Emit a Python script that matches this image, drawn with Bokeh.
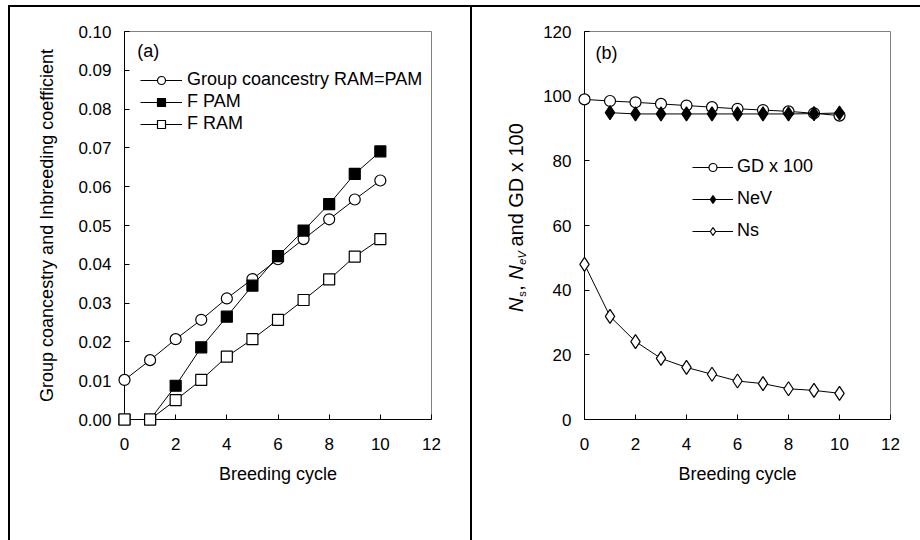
import math
from bokeh.plotting import figure
from bokeh.models import Range1d, Label, FixedTicker, PrintfTickFormatter
from bokeh.layouts import row
from bokeh.embed import file_html
from bokeh.resources import INLINE
from bokeh.core.properties import value

# ---------------- data ----------------
cycles = [0, 1, 2, 3, 4, 5, 6, 7, 8, 9, 10]
group_coancestry = [0.0102, 0.0153, 0.0207, 0.0257, 0.0312, 0.0362, 0.0413, 0.0465, 0.0516, 0.0567, 0.0616]
f_pam = [0.0, 0.0, 0.0087, 0.0186, 0.0265, 0.0345, 0.0421, 0.0487, 0.0555, 0.0633, 0.0691]
f_ram = [0.0, 0.0, 0.0050, 0.0102, 0.0162, 0.0207, 0.0257, 0.0308, 0.0361, 0.0420, 0.0465]

gd_x100 = [99.0, 98.5, 98.1, 97.6, 97.1, 96.6, 96.1, 95.7, 95.3, 94.7, 94.0]
nev_cycles = [1, 2, 3, 4, 5, 6, 7, 8, 9, 10]
nev = [94.9, 94.5, 94.5, 94.5, 94.5, 94.5, 94.5, 94.5, 94.6, 94.8]
ns = [48.0, 31.9, 24.1, 18.9, 16.1, 14.0, 11.9, 11.1, 9.5, 9.0, 8.1]

x_ticks = [0, 2, 4, 6, 8, 10, 12]
y_ticks_a = [0.0, 0.01, 0.02, 0.03, 0.04, 0.05, 0.06, 0.07, 0.08, 0.09, 0.10]
y_ticks_b = [0, 20, 40, 60, 80, 100, 120]

FONT = "Liberation Sans"
TICK_FS = "17px"
LABEL_FS = "18px"
H = 535
TOP = 24
BORDER = 2


def base_fig(width, mbl, mbr, frame_h, ymax, yticks):
    p = figure(width=width, height=H, output_backend="svg", toolbar_location=None,
               x_range=Range1d(0, 12), y_range=Range1d(0, ymax),
               min_border_left=mbl, min_border_right=mbr, min_border_top=TOP,
               min_border_bottom=H - BORDER - TOP - frame_h)
    p.grid.visible = False
    p.outline_line_color = "#808080"
    p.outline_line_width = 1
    p.background_fill_color = "white"
    p.border_fill_color = "white"
    for ax in (p.xaxis[0], p.yaxis[0]):
        ax.axis_line_color = "black"
        ax.axis_line_width = 1
        ax.major_tick_in = 5
        ax.major_tick_out = 0
        ax.minor_tick_line_color = None
        ax.major_tick_line_color = "black"
        ax.major_label_text_font = FONT
        ax.major_label_text_font_size = TICK_FS
        ax.major_label_text_color = "black"
        ax.major_label_standoff = 13
        ax.axis_label_text_font = FONT
        ax.axis_label_text_font_size = LABEL_FS
        ax.axis_label_text_font_style = "normal"
        ax.axis_label_text_color = "black"
    p.xaxis[0].ticker = FixedTicker(ticks=x_ticks)
    p.yaxis[0].ticker = FixedTicker(ticks=yticks)
    p.xaxis[0].axis_label = "Breeding cycle"
    p.xaxis[0].major_label_standoff = 18
    p.xaxis[0].axis_label_standoff = 11
    return p


def style_legend(p, x, y, spacing, gw, standoff):
    lg = p.legend[0]
    lg.location = (x, y)
    lg.padding = 0
    lg.margin = 0
    lg.spacing = spacing
    lg.border_line_color = None
    lg.background_fill_alpha = 0
    lg.glyph_width = gw
    lg.glyph_height = 20
    lg.label_height = 20
    lg.label_standoff = standoff
    lg.label_text_font = FONT
    lg.label_text_font_size = LABEL_FS
    lg.label_text_color = "black"


def series(p, xs, ys, marker, size, fill, label):
    p.line(xs, ys, line_color="black", line_width=1, legend_label=label)
    p.scatter(xs, ys, marker=marker, size=size, fill_color=fill, line_color="black",
              line_width=1.2, legend_label=label, level="overlay")


# ---------------- panel (a) ----------------
pa = base_fig(464, 114, 43, 388, 0.10, y_ticks_a)
pa.yaxis[0].formatter = PrintfTickFormatter(format="%.2f")
pa.yaxis[0].axis_label = "Group coancestry and Inbreeding coefficient"
pa.yaxis[0].axis_label_standoff = 18

series(pa, cycles, group_coancestry, "circle", 11, "white", "Group coancestry RAM=PAM")
series(pa, cycles, f_pam, "square", 11, "black", "F PAM")
series(pa, cycles, f_ram, "square", 11, "white", "F RAM")
style_legend(pa, 16, 285, 1, 42, 5)
pa.add_layout(Label(x=0.5, y=0.095, text="(a)", text_font=FONT, text_font_size=LABEL_FS,
                    text_baseline="middle", text_align="left", text_color="black"))
pa.styles = {"border-top": "2px solid black", "border-left": "2px solid black",
             "border-right": "2px solid black"}

# ---------------- panel (b) ----------------
FRAME_B_W = 306
FRAME_B_H = 386
pb = base_fig(448, 112, 30, FRAME_B_H, 120, y_ticks_b)

series(pb, cycles, gd_x100, "circle", 11, "white", "GD x 100")
series(pb, nev_cycles, nev, "diamond", 14, "black", "NeV")
series(pb, cycles, ns, "diamond", 14, "white", "Ns")
style_legend(pb, 108, 178, 11, 41, 4)
pb.add_layout(Label(x=0.43, y=113.5, text="(b)", text_font=FONT, text_font_size=LABEL_FS,
                    text_baseline="middle", text_align="left", text_color="black"))

# composite rotated y-axis title: N_s , N_eV  and GD x 100
# (pixel offsets from the frame's bottom-left corner, converted to data units)
px_x = 12.0 / FRAME_B_W
px_y = 120.0 / FRAME_B_H
title_parts = ["N", "s", ",", "N", "eV", "and GD x 100"]
part_dy = [107, 122, 128, 139, 154, 172]
part_dx = [-69, -63, -69, -69, -63, -69]
part_fs = ["20px", "11px", "20px", "20px", "11px", "20px"]
part_st = ["italic", "normal", "normal", "italic", "italic", "normal"]
for txt, dy, dx, fs, st in zip(title_parts, part_dy, part_dx, part_fs, part_st):
    pb.text(x=[dx * px_x], y=[dy * px_y], text=[txt], angle=math.pi / 2,
            text_font=value(FONT), text_font_size=value(fs), text_font_style=st,
            text_align="left", text_baseline="middle", text_color="black", level="overlay")
pb.styles = {"border-top": "2px solid black"}

root = row(pa, pb)
root.styles = {"margin-top": "5px", "margin-left": "8px"}

open("out.html", "w").write(file_html(root, INLINE))
